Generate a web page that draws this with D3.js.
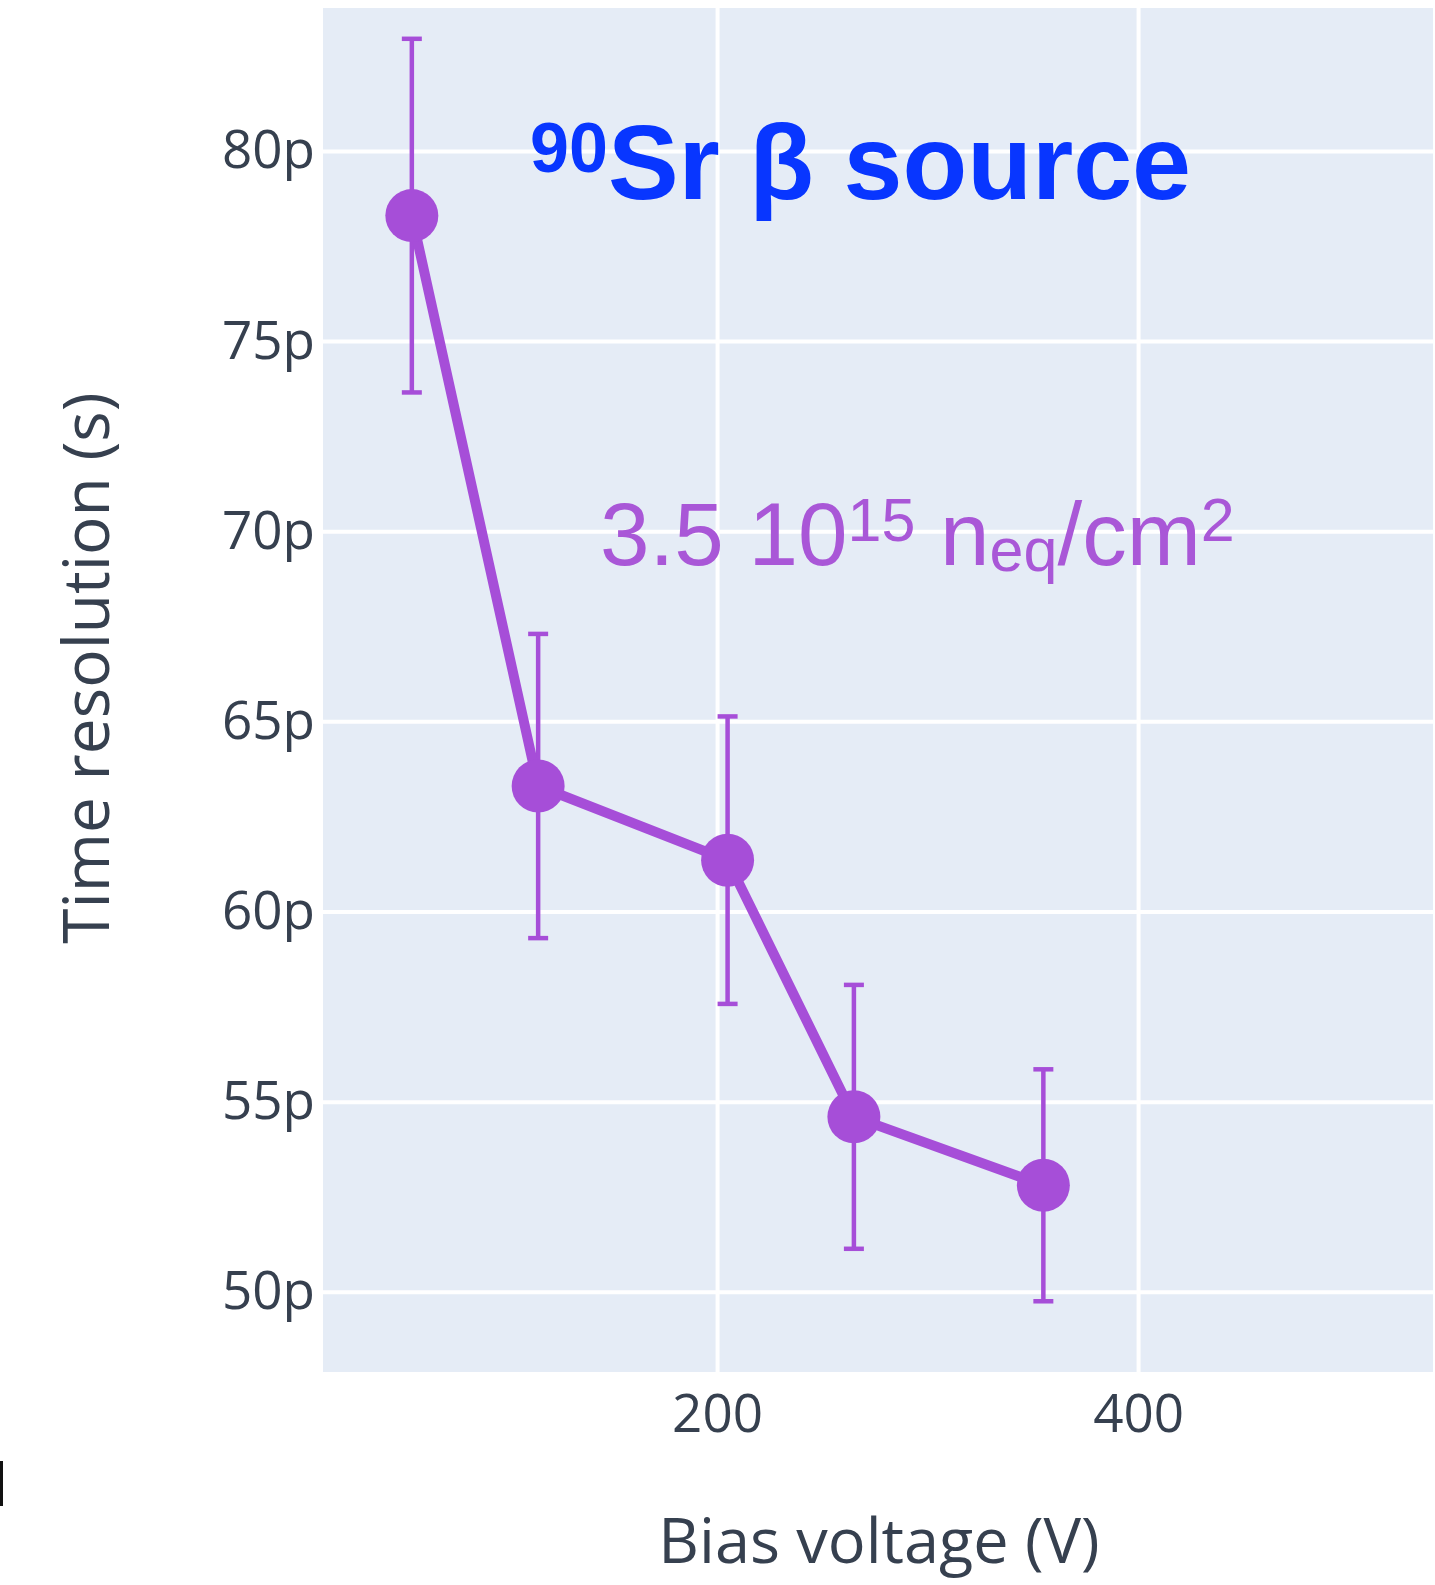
<!DOCTYPE html>
<html>
<head>
<meta charset="utf-8">
<script src="https://cdn.jsdelivr.net/npm/d3@7"></script>
<style>
    body { margin: 0; background: #fff; }
    svg { display: block; }
    .grid line { stroke: #fff; stroke-width: 4; }
    .grid path { display: none; }
    .ticks path { display: none; }
    .ticks text { font-family: "Open Sans", sans-serif; font-size: 53px; fill: #36404f; }
</style>
</head>
<body>
<div class="svg_container"></div>
<script>
// bias voltage (V), time resolution (s) and its error
var biasVoltage = [55, 115, 205, 265, 355];
var timeResolution = [78.3e-12, 63.3e-12, 61.35e-12, 54.6e-12, 52.8e-12];
var timeError = [4.65e-12, 4.0e-12, 3.78e-12, 3.47e-12, 3.05e-12];

var xTickValues = [200, 400];
var yTickValues = [50e-12, 55e-12, 60e-12, 65e-12, 70e-12, 75e-12, 80e-12];

var xTitle = "Bias voltage (V)";
var yTitle = "Time resolution (s)";

const WIDTH = 1435;
const HEIGHT = 1585;
const PLOT_LEFT = 323;
const PLOT_RIGHT = 1433;
const PLOT_TOP = 8;
const PLOT_BOTTOM = 1372;

const PURPLE = "#a64ed8";
const BLUE = "#0836ff";
const AXIS_TEXT = "#36404f";

var translate = function (x, y) {
    return "translate(" + x + "," + y + ")";
};

var xScale = d3.scaleLinear()
    .domain([12.8, 540.1])
    .range([PLOT_LEFT, PLOT_RIGHT]);

var yScale = d3.scaleLinear()
    .domain([47.89e-12, 83.76e-12])
    .range([PLOT_BOTTOM, PLOT_TOP]);

var pointData = biasVoltage.map(function (v, i) {
    return {x: v, y: timeResolution[i], e: timeError[i]};
});

var drawFrame = function (svg) {
    svg.append("rect")
        .attr("x", PLOT_LEFT)
        .attr("y", PLOT_TOP)
        .attr("width", PLOT_RIGHT - PLOT_LEFT)
        .attr("height", PLOT_BOTTOM - PLOT_TOP)
        .attr("fill", "#e5ecf6");

    svg.append("g")
        .attr("class", "grid")
        .attr("transform", translate(0, PLOT_BOTTOM))
        .call(d3.axisBottom(xScale).tickValues(xTickValues)
            .tickSize(-(PLOT_BOTTOM - PLOT_TOP)).tickFormat(""));

    svg.append("g")
        .attr("class", "grid")
        .attr("transform", translate(PLOT_LEFT, 0))
        .call(d3.axisLeft(yScale).tickValues(yTickValues)
            .tickSize(-(PLOT_RIGHT - PLOT_LEFT)).tickFormat(""));
};

var drawAxes = function (svg) {
    var xAxis = d3.axisBottom(xScale)
        .tickValues(xTickValues)
        .tickSize(0)
        .tickPadding(22);

    var yAxis = d3.axisLeft(yScale)
        .tickValues(yTickValues)
        .tickSize(0)
        .tickPadding(8)
        .tickFormat(d3.format("~s"));

    svg.append("g")
        .attr("class", "ticks")
        .attr("transform", translate(0, PLOT_BOTTOM))
        .call(xAxis);

    svg.append("g")
        .attr("class", "ticks")
        .attr("transform", translate(PLOT_LEFT, 0))
        .call(yAxis);

    svg.append("text")
        .attr("x", 879)
        .attr("y", 1563)
        .attr("text-anchor", "middle")
        .style("font-family", "'Open Sans', sans-serif")
        .style("font-size", "63px")
        .attr("fill", AXIS_TEXT)
        .text(xTitle);

    svg.append("text")
        .attr("transform", translate(109, 668) + " rotate(-90)")
        .attr("text-anchor", "middle")
        .style("font-family", "'Open Sans', sans-serif")
        .style("font-size", "64px")
        .attr("fill", AXIS_TEXT)
        .text(yTitle);
};

var drawSeries = function (svg) {
    var g = svg.append("g").attr("class", "series");

    var bars = g.append("g").attr("class", "errorBars")
        .selectAll("g").data(pointData).enter().append("g")
        .attr("stroke", PURPLE)
        .attr("stroke-width", 4.5);

    bars.append("line")
        .attr("x1", function (d) { return xScale(d.x); })
        .attr("x2", function (d) { return xScale(d.x); })
        .attr("y1", function (d) { return yScale(d.y + d.e); })
        .attr("y2", function (d) { return yScale(d.y - d.e); });

    [1, -1].forEach(function (sign) {
        bars.append("line")
            .attr("x1", function (d) { return xScale(d.x) - 10; })
            .attr("x2", function (d) { return xScale(d.x) + 10; })
            .attr("y1", function (d) { return yScale(d.y + sign * d.e); })
            .attr("y2", function (d) { return yScale(d.y + sign * d.e); });
    });

    var line = d3.line()
        .x(function (d) { return xScale(d.x); })
        .y(function (d) { return yScale(d.y); });

    g.append("path")
        .attr("d", line(pointData))
        .attr("fill", "none")
        .attr("stroke", PURPLE)
        .attr("stroke-width", 10)
        .attr("stroke-linejoin", "round");

    g.selectAll("circle").data(pointData).enter().append("circle")
        .attr("cx", function (d) { return xScale(d.x); })
        .attr("cy", function (d) { return yScale(d.y); })
        .attr("r", 26.5)
        .attr("fill", PURPLE);
};

// text pieces: [text, size, vertical shift from main baseline]
var addRichText = function (svg, x, y, pieces, attrs) {
    var t = svg.append("text")
        .attr("x", x)
        .attr("y", y)
        .style("white-space", "pre");
    Object.keys(attrs).forEach(function (k) { t.style(k, attrs[k]); });
    var prev = 0;
    pieces.forEach(function (p) {
        t.append("tspan")
            .attr("dy", p[2] - prev)
            .style("font-size", p[1] + "px")
            .text(p[0]);
        prev = p[2];
    });
};

var drawAnnotations = function (svg) {
    addRichText(svg, 530, 199, [
        ["90", 70, -27],
        ["Sr \u03b2 source", 106, 0]
    ], {"font-family": "'Liberation Sans', Arial, sans-serif", "font-weight": "bold", "fill": BLUE});

    addRichText(svg, 600, 565, [
        ["3.5 10", 89, 0],
        ["15", 61, -24],
        [" n", 89, 0],
        ["eq", 61, 6],
        ["/cm", 89, 0],
        ["2", 61, -24]
    ], {"font-family": "'Liberation Sans', Arial, sans-serif", "fill": "#a957d7"});
};

var loadDefault = function () {
    var svg = d3.select(".svg_container").append("svg")
        .attr("width", WIDTH)
        .attr("height", HEIGHT);

    drawFrame(svg);
    drawAxes(svg);
    drawSeries(svg);
    drawAnnotations(svg);

    // small dark mark at the left edge of the original picture
    svg.append("rect")
        .attr("x", 0).attr("y", 1461)
        .attr("width", 3).attr("height", 45)
        .attr("fill", "#111");
};

window.onload = loadDefault;
</script>
</body>
</html>
